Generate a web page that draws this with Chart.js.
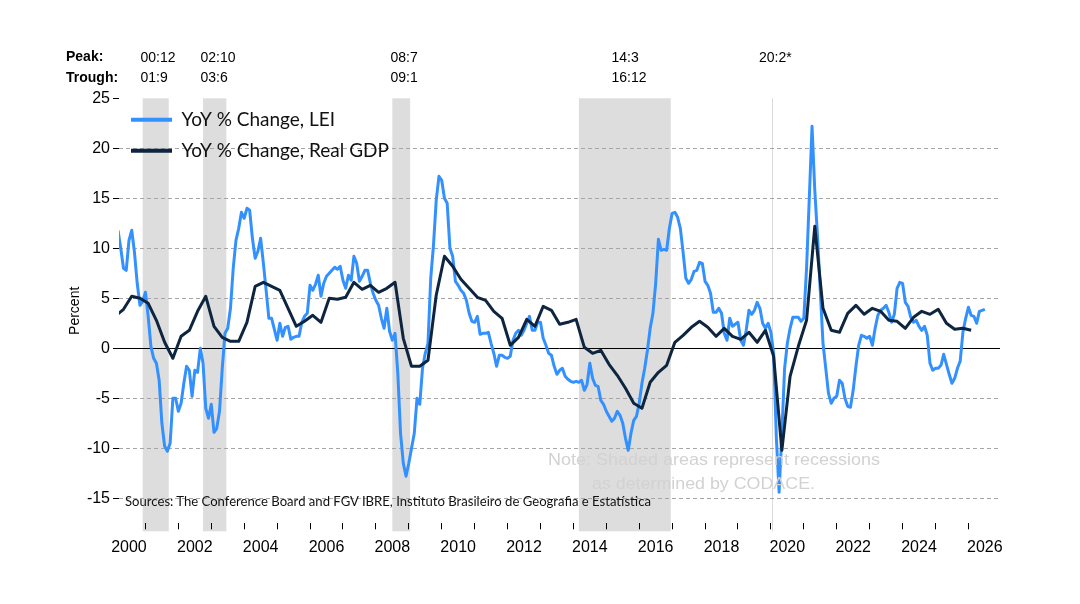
<!DOCTYPE html>
<html>
<head>
<meta charset="utf-8">
<script src="https://cdn.jsdelivr.net/npm/chart.js@4.4.1/dist/chart.umd.min.js"></script>
<style>
  html, body { margin: 0; padding: 0; background: #ffffff; }
  #wrap { position: relative; width: 1080px; height: 604px; overflow: hidden; background: #ffffff; }
  #wrap canvas { position: absolute; left: 0; top: 0; }
  .t { position: absolute; white-space: nowrap; line-height: 1; font-family: "Liberation Sans", Arial, sans-serif; color: #000; font-size: 14px; }
  .b { font-weight: bold; }
  .note { color: #d2d2d2; font-size: 17px; transform-origin: 0 0; }
  .src { font-family: Lato, "Noto Sans", sans-serif; font-size: 13px; color: #111; transform-origin: 0 0; }
</style>
</head>
<body>
<div id="wrap">
  <canvas id="c" width="1080" height="604"></canvas>
  <div class="t b" style="left:66px; top:49px;">Peak:</div>
  <div class="t b" style="left:66px; top:69.5px;">Trough:</div>
  <div class="t" style="left:140.5px; top:49.5px;">00:12</div>
  <div class="t" style="left:140.5px; top:69.5px;">01:9</div>
  <div class="t" style="left:200.5px; top:49.5px;">02:10</div>
  <div class="t" style="left:200.5px; top:69.5px;">03:6</div>
  <div class="t" style="left:390.5px; top:49.5px;">08:7</div>
  <div class="t" style="left:390.5px; top:69.5px;">09:1</div>
  <div class="t" style="left:611.5px; top:49.5px;">14:3</div>
  <div class="t" style="left:611.5px; top:69.5px;">16:12</div>
  <div class="t" style="left:759px; top:49.5px;">20:2*</div>
  <div class="t note" id="note1" data-w="332" style="left:548px; top:450.5px;">Note: Shaded areas represent recessions</div>
  <div class="t note" id="note2" data-w="223" style="left:592px; top:474.5px;">as determined by CODACE.</div>
  <div class="t src" id="src" data-w="526" style="left:125px; top:494.5px;">Sources: The Conference Board and FGV IBRE, Instituto Brasileiro de Geografia e Estatística</div>
</div>
<script>
// ---------------- DATA ----------------
// LEI, year-over-year % change, monthly. First value = March 2000 (month index 2 counted from Jan 2000).
const leiFirstMonthIndex = 2;
const leiValues = [
  /*2000*/ 11.8, 10.0, 8.0, 7.8, 10.8, 11.8, 9.6, 6.5, 4.3, 4.7,
  /*2001*/ 5.6, 3.2, 0.2, -1.0, -1.5, -3.2, -7.5, -9.8, -10.3, -9.5, -5.0, -5.0,
  /*2002*/ -6.3, -5.5, -3.5, -1.8, -2.2, -4.8, -2.2, -2.4, 0.0, -1.5, -6.0, -7.0,
  /*2003*/ -5.6, -8.4, -8.0, -6.3, -2.0, 1.5, 2.0, 4.0, 8.0, 10.8, 12.0, 13.6,
  /*2004*/ 13.0, 14.0, 13.8, 11.0, 9.0, 9.7, 11.0, 8.5, 5.8, 3.0, 3.0, 1.9,
  /*2005*/ 0.8, 2.5, 1.2, 2.1, 2.2, 0.9, 1.1, 1.2, 1.2, 2.6, 3.2, 3.5,
  /*2006*/ 6.3, 5.8, 6.4, 7.3, 5.2, 6.5, 7.2, 7.5, 7.8, 8.1, 7.9, 8.2,
  /*2007*/ 6.8, 6.0, 7.3, 6.8, 9.2, 8.5, 6.7, 7.2, 7.8, 7.8, 6.5, 5.5,
  /*2008*/ 4.8, 4.3, 3.0, 2.0, 4.0, 1.7, 0.8, 1.5, -2.5, -8.5, -11.5, -12.8,
  /*2009*/ -11.5, -10.0, -8.5, -5.0, -5.6, -2.0, -0.5, 0.5, 7.0, 10.3, 14.8, 17.2,
  /*2010*/ 16.8, 15.0, 14.5, 10.0, 9.2, 6.7, 6.3, 5.8, 5.5, 4.8, 3.5, 2.7,
  /*2011*/ 2.6, 3.2, 1.4, 1.5, 1.5, 1.6, 0.5, -0.5, -1.8, -0.7, -0.7, -0.9,
  /*2012*/ -1.0, -0.8, 0.8, 1.5, 1.8, 1.3, 1.8, 2.5, 3.2, 1.8, 1.8, 2.6,
  /*2013*/ 2.6, 1.0, 0.3, -0.5, -0.7, -1.8, -2.6, -2.2, -2.0, -2.8, -3.1, -3.3,
  /*2014*/ -3.4, -3.3, -3.4, -3.2, -4.2, -3.6, -1.5, -3.0, -3.7, -3.8, -5.2, -5.6,
  /*2015*/ -6.3, -6.8, -7.3, -7.0, -6.3, -6.7, -7.5, -9.0, -10.2, -8.5, -7.2, -6.8,
  /*2016*/ -5.5, -3.5, -2.0, -0.2, 2.0, 3.5, 6.5, 10.9, 9.8, 9.9, 9.8, 12.0,
  /*2017*/ 13.5, 13.6, 13.1, 12.0, 9.6, 7.0, 6.5, 6.9, 7.7, 7.8, 8.6, 8.5,
  /*2018*/ 6.7, 6.3, 5.5, 3.6, 3.6, 4.0, 3.5, 1.5, 0.8, 3.0, 2.2, 2.4,
  /*2019*/ 2.6, 0.8, 0.3, 1.8, 3.8, 3.4, 3.8, 4.6, 4.0, 2.5, 2.0, 2.5,
  /*2020*/ 1.6, -0.5, -9.0, -14.4, -8.5, -2.0, 0.5, 2.0, 3.1, 3.1, 3.1, 2.7,
  /*2021*/ 3.0, 8.0, 15.0, 22.2, 15.8, 11.2, 5.8, 0.5, -2.0, -4.5, -5.5, -5.0,
  /*2022*/ -4.8, -3.2, -3.5, -5.0, -5.8, -5.9, -4.2, -1.8, 0.3, 1.3, 1.2, 1.0,
  /*2023*/ 1.2, 0.3, 2.0, 3.3, 3.8, 4.0, 4.3, 3.6, 2.6, 3.4, 6.0, 6.6,
  /*2024*/ 6.5, 4.6, 4.2, 3.1, 2.6, 2.8, 2.2, 1.8, 2.2, 1.3, -1.5, -2.2,
  /*2025*/ -2.0, -2.0, -1.7, -0.6, -1.6, -2.6, -3.5, -3.0, -2.0, -1.3, 1.6, 3.0,
  /*2026*/ 4.1, 3.3, 3.2, 2.5, 3.7, 3.8, 3.9
];

// Real GDP, year-over-year % change, quarterly. First value = Q1 2000 (plotted at the quarter's middle month).
const gdpFirstMonthIndex = 1;
const gdpValues = [
  /*2000*/ 3.2, 3.9, 5.2, 5.0,
  /*2001*/ 4.5, 2.8, 0.6, -1.0,
  /*2002*/ 1.2, 1.8, 3.7, 5.2,
  /*2003*/ 2.2, 1.1, 0.7, 0.7,
  /*2004*/ 2.6, 6.2, 6.6, 6.2,
  /*2005*/ 5.8, 4.0, 2.2, 2.7,
  /*2006*/ 3.3, 2.6, 5.0, 4.9,
  /*2007*/ 5.1, 6.6, 5.9, 6.3,
  /*2008*/ 5.6, 6.0, 6.6, 1.0,
  /*2009*/ -1.8, -1.8, -1.2, 5.3,
  /*2010*/ 9.2, 8.2, 6.9, 6.0,
  /*2011*/ 5.1, 4.8, 3.7, 3.0,
  /*2012*/ 0.3, 1.1, 2.9, 2.2,
  /*2013*/ 4.2, 3.8, 2.4, 2.6,
  /*2014*/ 2.9, 0.1, -0.5, -0.2,
  /*2015*/ -1.6, -2.7, -4.0, -5.5,
  /*2016*/ -6.0, -3.4, -2.4, -1.7,
  /*2017*/ 0.6, 1.3, 2.1, 2.7,
  /*2018*/ 2.1, 1.2, 2.0, 1.2,
  /*2019*/ 0.9, 1.6, 0.6, 1.8,
  /*2020*/ -0.8, -10.2, -2.8, 0.2,
  /*2021*/ 2.8, 12.2, 4.0, 1.8,
  /*2022*/ 1.6, 3.5, 4.3, 3.4,
  /*2023*/ 4.0, 3.7, 2.8, 2.7,
  /*2024*/ 2.0, 3.1, 3.7, 3.4,
  /*2025*/ 3.9, 2.5, 1.9, 2.0,
  /*2026*/ 1.8
];

// CODACE recessions (peak -> trough) and the open 2020 recession peak
const recessionPeaks   = ["2000-12", "2002-10", "2008-07", "2014-03"];
const recessionTroughs = ["2001-09", "2003-06", "2009-01", "2016-12"];
const openRecessionPeak = "2020-02";

// Axis ticks
const yTickValues = [-15, -10, -5, 0, 5, 10, 15, 20, 25];
const xLabelYears = [2000, 2002, 2004, 2006, 2008, 2010, 2012, 2014, 2016, 2018, 2020, 2022, 2024, 2026];
const xTickYears = [2001, 2002, 2003, 2004, 2005, 2006, 2007, 2008, 2009, 2010, 2011, 2012, 2013,
                    2014, 2015, 2016, 2017, 2018, 2019, 2020, 2021, 2022, 2023, 2024, 2025, 2026];

const seriesLabels = ["YoY % Change, LEI", "YoY % Change, Real GDP"];

// ---------------- HELPERS ----------------
const ym = s => { const [y, m] = s.split('-').map(Number); return y + (m - 1) / 12; };
const leiPoints = leiValues.map((v, i) => ({ x: 2000 + (leiFirstMonthIndex + i) / 12, y: v }));
const gdpPoints = gdpValues.map((v, i) => ({ x: 2000 + (gdpFirstMonthIndex + 3 * i) / 12, y: v }));

const X_MIN = 2000.197, X_MAX = 2026.96;
const Y_MIN = -17.5, Y_MAX = 25, SHADE_BOTTOM = -18.3;

const xAllTicks = xTickYears.concat(xLabelYears.map(y => y + 0.5)).sort((a, b) => a - b);

const FONT = "'Liberation Sans', Arial, sans-serif";
Chart.defaults.font.family = FONT;
Chart.defaults.color = '#000';

const recessionPlugin = {
  id: 'recessions',
  afterLayout(chart) {
    // keep the in-plot legend anchored to the top of the chart area
    const l = chart.legend;
    if (l) {
      const h = l.height;
      l.top = chart.chartArea.top;
      l.bottom = l.top + h;
    }
  },
  beforeDraw(chart) {
    const { ctx, scales: { x, y } } = chart;
    const top = y.getPixelForValue(Y_MAX);
    const bottom = y.getPixelForValue(SHADE_BOTTOM);
    ctx.save();
    ctx.fillStyle = '#dddddd';
    recessionPeaks.forEach((p, i) => {
      const x0 = x.getPixelForValue(ym(p));
      const x1 = x.getPixelForValue(ym(recessionTroughs[i]) + 0.5 / 12);
      ctx.fillRect(x0, top, x1 - x0, bottom - top);
    });
    const xl = Math.round(x.getPixelForValue(ym(openRecessionPeak) - 0.04)) + 0.5;
    ctx.strokeStyle = '#d9d9d9';
    ctx.lineWidth = 1;
    ctx.beginPath(); ctx.moveTo(xl, top); ctx.lineTo(xl, bottom); ctx.stroke();
    ctx.restore();
  },
  beforeDatasetsDraw(chart) {
    const { ctx, chartArea, scales: { y } } = chart;
    const y0 = Math.round(y.getPixelForValue(0)) + 0.5;
    ctx.save();
    ctx.strokeStyle = '#000';
    ctx.lineWidth = 1;
    ctx.beginPath(); ctx.moveTo(chartArea.left, y0); ctx.lineTo(chartArea.right, y0); ctx.stroke();
    ctx.restore();
  }
};

new Chart(document.getElementById('c'), {
  type: 'line',
  data: {
    datasets: [
      { label: seriesLabels[0], data: leiPoints, borderColor: '#3391ff', backgroundColor: '#3391ff',
        borderWidth: 3, pointRadius: 0, tension: 0, borderJoinStyle: 'round', order: 2 },
      { label: seriesLabels[1], data: gdpPoints, borderColor: '#0e2540', backgroundColor: '#0e2540',
        borderWidth: 3, pointRadius: 0, tension: 0, borderJoinStyle: 'round', order: 1 }
    ]
  },
  options: {
    responsive: false,
    animation: false,
    layout: { padding: { top: 98.3, left: 0, right: 80, bottom: 40.7 } },
    plugins: {
      tooltip: { enabled: false },
      legend: {
        position: 'chartArea',
        align: 'start',
        labels: {
          usePointStyle: true,
          pointStyleWidth: 41,
          padding: 12,
          color: '#111',
          font: { family: "Lato, 'Noto Sans', sans-serif", size: 19 },
          generateLabels: (chart) => chart.data.datasets.map((ds, i) => ({
            text: ds.label, fillStyle: ds.borderColor, strokeStyle: ds.borderColor,
            lineWidth: 4, pointStyle: 'line', hidden: false, datasetIndex: i, fontColor: '#111'
          }))
        }
      }
    },
    scales: {
      x: {
        type: 'linear',
        min: X_MIN, max: X_MAX,
        afterBuildTicks: (s) => { s.ticks = xAllTicks.map(v => ({ value: v })); },
        afterFit: (s) => { s.height = 40; },
        border: { display: false },
        grid: {
          drawOnChartArea: false, drawTicks: true, tickLength: 6, tickWidth: 1,
          tickColor: (c) => Number.isInteger(c.tick.value) ? '#000' : 'rgba(0,0,0,0)'
        },
        ticks: {
          autoSkip: false, maxRotation: 0, minRotation: 0, padding: 9,
          color: '#000', font: { size: 16 },
          callback: (v) => {
            const f = Math.floor(v);
            return (Math.abs(v - f - 0.5) < 1e-6 && xLabelYears.includes(f)) ? String(f) : '';
          }
        }
      },
      y: {
        min: Y_MIN, max: Y_MAX,
        afterBuildTicks: (s) => { s.ticks = yTickValues.map(v => ({ value: v })); },
        afterFit: (s) => { s.width = 119; },
        border: { display: false, dash: [4, 3] },
        grid: {
          lineWidth: 1,
          color: (c) => (c.tick && (c.tick.value === 0 || c.tick.value === Y_MAX)) ? 'rgba(0,0,0,0)' : '#a6a6a6',
          drawTicks: true, tickLength: 6, tickWidth: 1, tickColor: '#000'
        },
        ticks: { padding: 3, color: '#000', font: { size: 16 }, callback: (v) => String(v) },
        title: { display: true, text: 'Percent', color: '#000', font: { size: 14 }, padding: { top: 67, bottom: 0 } }
      }
    }
  },
  plugins: [recessionPlugin]
});

// fit annotation text widths to the reference
document.querySelectorAll('[data-w]').forEach(el => {
  const w = el.getBoundingClientRect().width;
  const target = parseFloat(el.dataset.w);
  if (w > 0) el.style.transform = 'scaleX(' + (target / w).toFixed(4) + ')';
});
</script>
</body>
</html>
